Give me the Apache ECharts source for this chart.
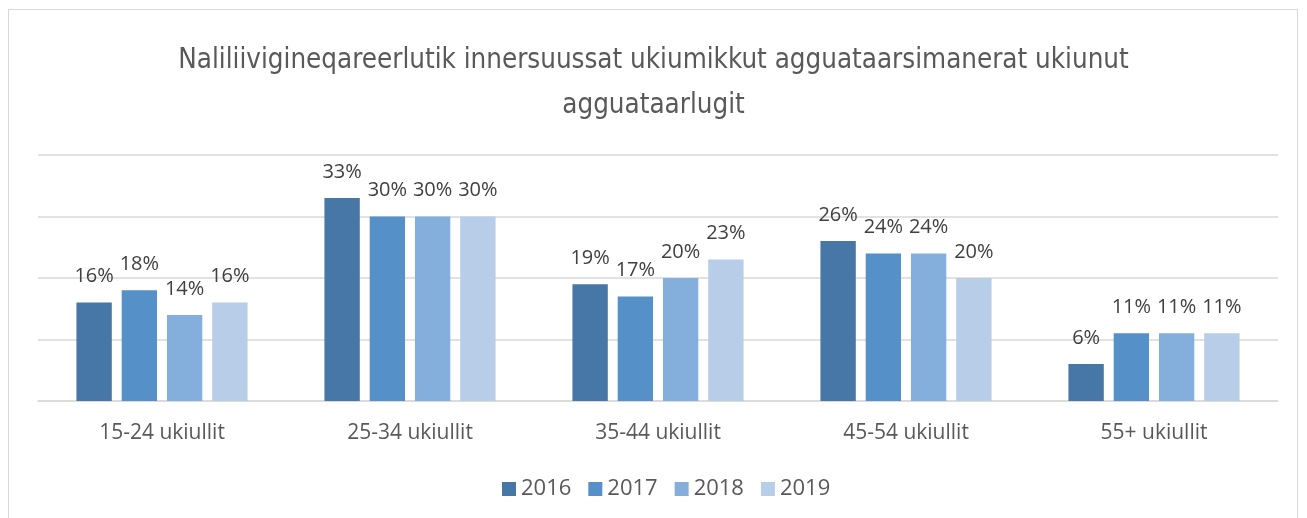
<!DOCTYPE html>
<html>
<head>
<meta charset="utf-8">
<script src="https://cdn.jsdelivr.net/npm/echarts@6/dist/echarts.min.js"></script>
<style>
html,body{margin:0;padding:0;background:#fff;}
#frame{position:absolute;left:8px;top:9px;width:1290px;height:520px;border:1px solid #d9d9d9;box-sizing:border-box;}
#chart{width:1307px;height:518px;}
</style>
</head>
<body>
<div id="frame"></div>
<div id="chart"></div>
<script>
// kategorier og tal
var categories = ['15-24 ukiullit', '25-34 ukiullit', '35-44 ukiullit', '45-54 ukiullit', '55+ ukiullit'];
var years = ['2016', '2017', '2018', '2019'];
var v2016 = [16, 33, 19, 26, 6];
var v2017 = [18, 30, 17, 24, 11];
var v2018 = [14, 30, 20, 24, 11];
var v2019 = [16, 30, 23, 20, 11];
var colors = ['#4677a7', '#5590c9', '#84afdc', '#b7cde8'];

var chart = echarts.init(document.getElementById('chart'));
var allValues = [v2016, v2017, v2018, v2019];
var series = years.map(function (y, i) {
	return {
		name: y,
		type: 'bar',
		data: allValues[i],
		barGap: '28%',
		barCategoryGap: '31%',
		itemStyle: { color: colors[i] },
		label: {
			show: true,
			position: 'top',
			distance: 16,
			formatter: '{c}%',
			color: '#404040',
			fontSize: 20,
			fontFamily: 'Open Sans'
		}
	};
});

chart.setOption({
	color: colors,
	title: {
		text: 'Naliliivigineqareerlutik innersuussat ukiumikkut agguataarsimanerat ukiunut\nagguataarlugit',
		left: 'center',
		top: 33,
		textStyle: {
			color: '#595959',
			fontSize: 27.5,
			fontWeight: 'normal',
			fontFamily: 'DejaVu Sans Condensed',
			lineHeight: 45
		}
	},
	legend: {
		bottom: 13,
		left: 497,
		itemWidth: 14,
		itemHeight: 14,
		itemGap: 17,
		icon: 'rect',
		textStyle: { color: '#595959', fontSize: 22, fontFamily: 'Open Sans' }
	},
	grid: { left: 38, right: 29, top: 155, bottom: 117, containLabel: false },
	xAxis: {
		type: 'category',
		data: categories,
		axisTick: { show: false },
		axisLine: { lineStyle: { color: '#d9d9d9', width: 1.5 } },
		axisLabel: { color: '#595959', fontSize: 21, margin: 22, fontFamily: 'Open Sans' }
	},
	yAxis: {
		type: 'value',
		min: 0,
		max: 40,
		interval: 10,
		axisLabel: { show: false },
		axisLine: { show: false },
		axisTick: { show: false },
		splitLine: { lineStyle: { color: '#d9d9d9', width: 1.5 } }
	},
	series: series
});
</script>
</body>
</html>
